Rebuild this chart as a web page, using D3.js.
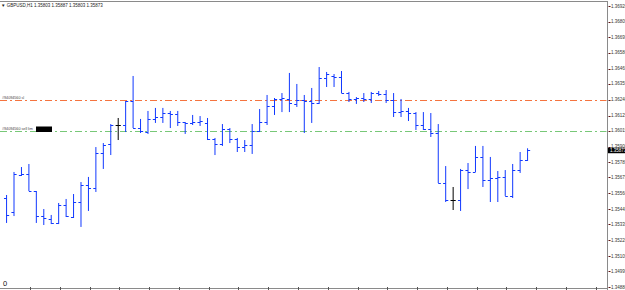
<!DOCTYPE html>
<html>
<head>
<meta charset="utf-8">
<script src="https://cdn.jsdelivr.net/npm/d3@7"></script>
<style>
  body { margin: 0; background: #fff; }
  svg { display: block; font-family: 'Liberation Sans', Arial, sans-serif; }
</style>
</head>
<body>
<svg id="chart"></svg>
<script>
// GBPUSD H1 bars, oldest first
const opens = [1.35526, 1.35424, 1.35693, 1.35700, 1.35577, 1.35395, 1.35374, 1.35345, 1.35475, 1.35388,
  1.35497, 1.35621, 1.35599, 1.35853, 1.35918, 1.36056, 1.36056, 1.36230, 1.36034, 1.36005,
  1.36100, 1.36114, 1.36143, 1.36136, 1.36078, 1.36071, 1.36078, 1.36071, 1.35954, 1.35918,
  1.36027, 1.35954, 1.35896, 1.35911, 1.36013, 1.36078, 1.36194, 1.36245, 1.36245, 1.36209,
  1.36238, 1.36230, 1.36216, 1.36397, 1.36412, 1.36405, 1.36288, 1.36245, 1.36252, 1.36245,
  1.36288, 1.36281, 1.36238, 1.36150, 1.36158, 1.36143, 1.36056, 1.36027, 1.35998, 1.35635,
  1.35512, 1.35512, 1.35729, 1.35715, 1.35824, 1.35657, 1.35671, 1.35679, 1.35541, 1.35729,
  1.35803];
const highs = [1.35548, 1.35715, 1.35751, 1.35773, 1.35577, 1.35446, 1.35403, 1.35490, 1.35519, 1.35555,
  1.35642, 1.35679, 1.35896, 1.35925, 1.36063, 1.36107, 1.36230, 1.36412, 1.36100, 1.36158,
  1.36180, 1.36180, 1.36158, 1.36158, 1.36078, 1.36129, 1.36121, 1.36107, 1.35962, 1.36063,
  1.36034, 1.35962, 1.35947, 1.36063, 1.36172, 1.36274, 1.36252, 1.36288, 1.36434, 1.36354,
  1.36274, 1.36325, 1.36477, 1.36441, 1.36426, 1.36448, 1.36296, 1.36259, 1.36288, 1.36296,
  1.36303, 1.36310, 1.36288, 1.36245, 1.36180, 1.36150, 1.36150, 1.36143, 1.36063, 1.35758,
  1.35606, 1.35737, 1.35780, 1.35904, 1.35904, 1.35824, 1.35722, 1.35729, 1.35773, 1.35860,
  1.35887];
const lows = [1.35345, 1.35395, 1.35686, 1.35577, 1.35345, 1.35330, 1.35337, 1.35337, 1.35388, 1.35381,
  1.35316, 1.35432, 1.35570, 1.35737, 1.35838, 1.35947, 1.36005, 1.36034, 1.35998, 1.35991,
  1.36071, 1.36071, 1.36034, 1.36049, 1.35991, 1.36056, 1.36049, 1.35947, 1.35838, 1.35904,
  1.35925, 1.35860, 1.35860, 1.35846, 1.36005, 1.36056, 1.36129, 1.36150, 1.36150, 1.36187,
  1.35998, 1.36071, 1.36209, 1.36332, 1.36332, 1.36288, 1.36223, 1.36209, 1.36223, 1.36216,
  1.36267, 1.36216, 1.36114, 1.36114, 1.36085, 1.36020, 1.36020, 1.35969, 1.35635, 1.35497,
  1.35439, 1.35432, 1.35591, 1.35715, 1.35606, 1.35497, 1.35497, 1.35541, 1.35526, 1.35708,
  1.35795];
const closes = [1.35403, 1.35700, 1.35700, 1.35577, 1.35395, 1.35381, 1.35345, 1.35475, 1.35395, 1.35497,
  1.35621, 1.35599, 1.35853, 1.35911, 1.36056, 1.36056, 1.36230, 1.36034, 1.36013, 1.36100,
  1.36114, 1.36143, 1.36136, 1.36078, 1.36071, 1.36078, 1.36085, 1.35954, 1.35918, 1.36027,
  1.35954, 1.35896, 1.35911, 1.36013, 1.36078, 1.36194, 1.36245, 1.36252, 1.36216, 1.36238,
  1.36230, 1.36216, 1.36397, 1.36426, 1.36405, 1.36288, 1.36245, 1.36252, 1.36245, 1.36288,
  1.36281, 1.36238, 1.36150, 1.36158, 1.36143, 1.36056, 1.36027, 1.35998, 1.35635, 1.35512,
  1.35512, 1.35729, 1.35715, 1.35824, 1.35657, 1.35671, 1.35679, 1.35541, 1.35729, 1.35803,
  1.35873];

const priceLabels = [1.36920, 1.36805, 1.36695, 1.36580, 1.36465, 1.36355, 1.36240, 1.36125, 1.36015, 1.35900,
  1.35785, 1.35675, 1.35560, 1.35445, 1.35335, 1.35220, 1.35105, 1.34995, 1.34880];

const orderLines = [
  {name: '#94094560 sl', price: 1.36240, color: '#f5743f'},
  {name: '#94094560 sell lim', price: 1.36010, color: '#78c878'}
];

const title = '\u25BC GBPUSD,H1  1.35803 1.35887 1.35803 1.35873';
const lastPrice = 1.35873;

const width = 625,
  height = 290,
  axisX = 607.5;

const bars = opens.map((o, i) => ({i, o, h: highs[i], l: lows[i], c: closes[i]}));

const svg = d3.select('#chart')
  .attr('width', width)
  .attr('height', height);

const x = d3.scaleLinear()
  .domain([0, bars.length - 1])
  .range([6.57, 527.57]);

const y = d3.scaleLinear()
  .domain([1.34880, 1.36920])
  .range([287, 6]);

const snap = v => Math.round(v) + 0.5;

// frame
svg.append('line')
  .attr('x1', 0).attr('x2', axisX)
  .attr('y1', 1.5).attr('y2', 1.5)
  .attr('stroke', '#8a8a8a');

svg.append('line')
  .attr('x1', axisX).attr('x2', axisX)
  .attr('y1', 1).attr('y2', height)
  .attr('stroke', '#8a8a8a');

svg.append('line')
  .attr('x1', 0).attr('x2', axisX)
  .attr('y1', 288.5).attr('y2', 288.5)
  .attr('stroke', '#8a8a8a');

svg.append('g')
  .selectAll('line')
  .data(d3.range(3.15, 80, 4).filter(i => x(i) < axisX))
  .enter().append('line')
  .attr('x1', d => snap(x(d))).attr('x2', d => snap(x(d)))
  .attr('y1', 287).attr('y2', height)
  .attr('stroke', '#555');

// order lines
const orders = svg.append('g');

orders.selectAll('line')
  .data(orderLines)
  .enter().append('line')
  .attr('x1', 0).attr('x2', axisX - 1)
  .attr('y1', d => snap(y(d.price)))
  .attr('y2', d => snap(y(d.price)))
  .attr('stroke', d => d.color)
  .attr('stroke-dasharray', '7,3,2,3');

orders.selectAll('text')
  .data(orderLines)
  .enter().append('text')
  .attr('x', 2)
  .attr('y', d => snap(y(d.price)) - 2)
  .attr('font-size', 3.7)
  .attr('fill', '#444')
  .text(d => d.name);

orders.append('rect')
  .attr('x', 36).attr('y', snap(y(orderLines[1].price)) - 5)
  .attr('width', 16).attr('height', 5.5)
  .attr('fill', '#000');

// bars
svg.append('g')
  .selectAll('path')
  .data(bars)
  .enter().append('path')
  .attr('d', d => {
    const cx = x(d.i);
    return `M${cx},${y(d.h)}V${y(d.l)}` +
      `M${cx - 2.6},${snap(y(d.o))}H${cx}` +
      `M${cx},${snap(y(d.c))}H${cx + 2.6}`;
  })
  .attr('fill', 'none')
  .attr('stroke', d => d.o === d.c ? '#000' : '#1038ff')
  .attr('stroke-width', 1);

// price axis
const axis = svg.append('g');

axis.selectAll('line')
  .data(priceLabels)
  .enter().append('line')
  .attr('x1', axisX + 1).attr('x2', axisX + 3)
  .attr('y1', d => snap(y(d))).attr('y2', d => snap(y(d)))
  .attr('stroke', '#5a1010');

axis.selectAll('text')
  .data(priceLabels)
  .enter().append('text')
  .attr('x', 611)
  .attr('y', d => y(d) + 1.6)
  .attr('font-size', 4.5)
  .attr('fill', '#333')
  .text(d => d.toFixed(5));

axis.append('rect')
  .attr('x', 608).attr('y', y(lastPrice) - 2.5)
  .attr('width', 17).attr('height', 5.5)
  .attr('fill', '#000');

axis.append('text')
  .attr('x', 610)
  .attr('y', y(lastPrice) + 1.6)
  .attr('font-size', 4.5)
  .attr('fill', '#fff')
  .text(lastPrice.toFixed(5));

// labels
svg.append('text')
  .attr('x', 1).attr('y', 7)
  .attr('font-size', 4.5)
  .attr('fill', '#222')
  .text(title);

svg.append('text')
  .attr('x', 3).attr('y', 286)
  .attr('font-size', 7.5)
  .attr('fill', '#111')
  .text('0');
</script>
</body>
</html>
